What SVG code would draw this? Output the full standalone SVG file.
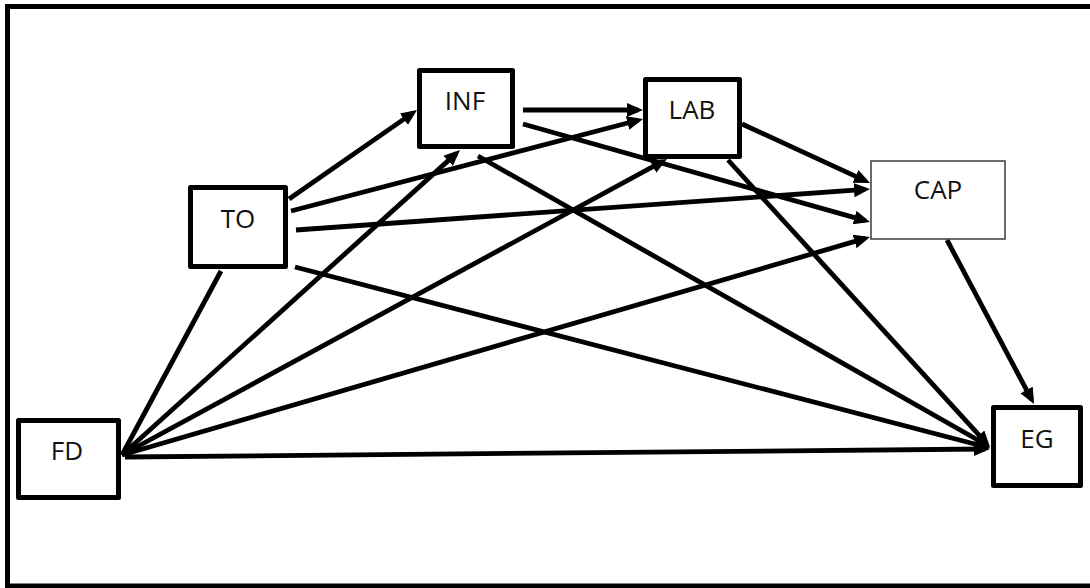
<svg xmlns="http://www.w3.org/2000/svg" width="1090" height="588" viewBox="0 0 1090 588">
  <style>
    .frame { fill: none; stroke: #000; stroke-width: 5; }
    .box { fill: #fff; stroke: #000; stroke-width: 5; stroke-linejoin: round; }
    .box-thin { fill: #fff; stroke: #3a3a3a; stroke-width: 1.5; }
    .label { font-family: "Open Sans", "Liberation Sans", sans-serif; font-size: 26px; fill: #111; text-anchor: middle; }
    .edge { stroke: #000; stroke-width: 4.8; fill: none; }
    .arrow { marker-end: url(#head); }
  </style>
  <defs>
    <marker id="head" markerUnits="userSpaceOnUse" markerWidth="18" markerHeight="16" refX="11" refY="7" orient="auto">
      <path d="M0,0 L16,7 L0,14 Z" fill="#000"/>
    </marker>
  </defs>

  <rect x="0" y="0" width="1090" height="588" fill="#fff"/>
  <!-- outer frame (runs past the right edge) -->
  <rect class="frame" x="7.5" y="6.5" width="1100" height="579.5"/>

  <!-- connectors -->
  <g id="connectors">
    <line class="edge arrow" x1="289" y1="199" x2="412.9" y2="112.9"/>
    <line class="edge arrow" x1="291" y1="211" x2="638.2" y2="120.3"/>
    <line class="edge arrow" x1="296" y1="230" x2="865" y2="189.4"/>
    <line class="edge arrow" x1="295" y1="267" x2="985.2" y2="446.7"/>
    <line class="edge arrow" x1="523" y1="110" x2="638" y2="110"/>
    <line class="edge arrow" x1="523" y1="124" x2="865.2" y2="220.6"/>
    <line class="edge arrow" x1="478" y1="156" x2="985.7" y2="444.5"/>
    <line class="edge arrow" x1="742" y1="124" x2="865.5" y2="180.9"/>
    <line class="edge arrow" x1="728" y1="160" x2="986.6" y2="443.3"/>
    <line class="edge arrow" x1="947" y1="240" x2="1031.7" y2="399.6"/>
    <line class="edge" x1="122" y1="455" x2="221" y2="271"/>
    <line class="edge arrow" x1="122" y1="455" x2="456.3" y2="153.4"/>
    <line class="edge arrow" x1="122" y1="455" x2="662.6" y2="161.4"/>
    <line class="edge arrow" x1="122" y1="455" x2="865.2" y2="238.4"/>
    <line class="edge arrow" x1="125" y1="457" x2="985" y2="449"/>
  </g>

  <!-- nodes -->
  <g id="node-INF">
    <rect class="box" x="419.5" y="70.5" width="93" height="76"/>
    <text class="label" x="465" y="110">INF</text>
  </g>
  <g id="node-LAB">
    <rect class="box" x="645.5" y="79.5" width="94" height="77"/>
    <text class="label" x="692" y="119">LAB</text>
  </g>
  <g id="node-TO">
    <rect class="box" x="190.5" y="187.5" width="95" height="79"/>
    <text class="label" x="238" y="228">TO</text>
  </g>
  <g id="node-CAP">
    <rect class="box-thin" x="871" y="161" width="134" height="78"/>
    <text class="label" x="938" y="199">CAP</text>
  </g>
  <g id="node-FD">
    <rect class="box" x="18.5" y="420.5" width="100" height="77"/>
    <text class="label" x="67" y="460">FD</text>
  </g>
  <g id="node-EG">
    <rect class="box" x="993.5" y="407.5" width="87" height="78"/>
    <text class="label" x="1037" y="448">EG</text>
  </g>
</svg>
